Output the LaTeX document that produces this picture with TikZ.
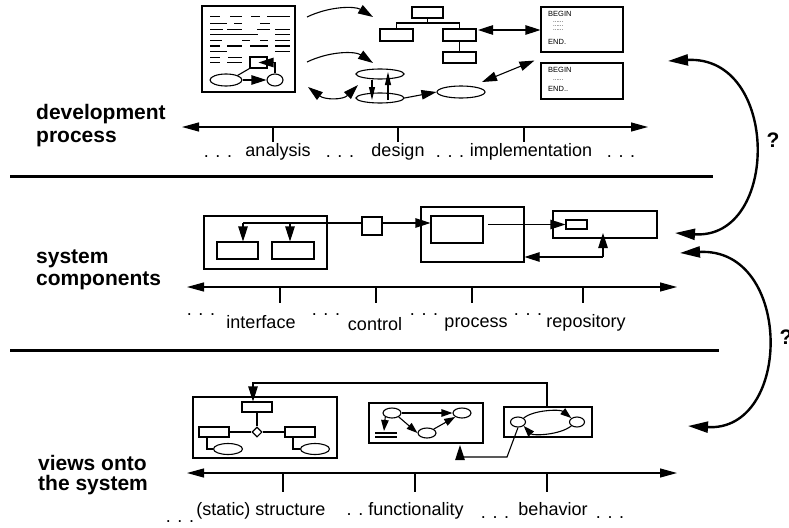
\documentclass[tikz,border=0pt]{standalone}
\usepackage{fontspec}
\setmainfont{Liberation Sans}
\usetikzlibrary{arrows.meta,shapes.geometric}
\begin{document}
\begin{tikzpicture}[x=1pt,y=-1pt,
  ln/.style={line width=1.1pt},
  bx/.style={draw,line width=1.1pt,inner sep=0pt,minimum width=#1},
  el/.style={draw,ellipse,line width=1.1pt,inner sep=0pt},
  tip/.style={line width=1.1pt,-{Triangle[length=15pt,width=9.5pt]}},
  tips/.style={line width=1.1pt,{Triangle[length=15pt,width=9.5pt]}-{Triangle[length=15pt,width=9.5pt]}},
  small/.style={line width=1.1pt,-{Triangle[length=11pt,width=7.5pt]}},
  slim/.style={line width=1.1pt,-{Triangle[length=13pt,width=6pt]}},
  axis/.style={line width=1.2pt,{Triangle[length=17pt,width=9pt]}-{Triangle[length=17pt,width=9pt]}},
  tick/.style={line width=1.2pt},
  sep/.style={line width=3pt},
  arc/.style={line width=2.4pt,{Triangle[length=20pt,width=11pt]}-{Triangle[length=20pt,width=11pt]}},
  lbl/.style={font=\fontsize{18}{20}\selectfont,inner sep=0pt,anchor=base},
  ttl/.style={font=\fontsize{21}{23}\selectfont\bfseries,inner sep=0pt,anchor=base west},
  code/.style={font=\fontsize{7.5}{8}\selectfont,inner sep=0pt,anchor=base west},
  dots/.style={font=\fontsize{6}{6}\selectfont,inner sep=0pt,anchor=base west},
  textline/.style={line width=1.5pt}
]
\useasboundingbox (0,0) rectangle (789,527);

% ---------------- development process ----------------
\node[ttl] (t1a) at (36,119) {development};
\node[ttl] (t1b) at (36,142) {process};

% text document with small diagram
\node[bx=93pt,minimum height=86pt] (doc) at (248.5,49) {};
\foreach \yy/\segs in {16.7/{210/220,230/242,251/260,267/290},
                       23.3/{210/227,234/242,260/270},
                       29.3/{210/223,227/242,257/270,275/290},
                       34.7/{210/258,275/290},
                       40.3/{210/222,242/250,260/268,275/290},
                       46/{210/220,227/242,250/268,275/290},
                       51.7/{210/227,275/290},
                       57.3/{210/220,228/242},
                       62.7/{210/220,227/242}}{
  \foreach \xa/\xb in \segs { \draw[textline] (\xa,\yy) -- (\xb,\yy); }
}
\node[bx=17pt,minimum height=11pt] (r0) at (258.5,62.5) {};
\node[el,minimum width=32pt,minimum height=12pt] (e0) at (226,80) {};
\node[el,minimum width=16pt,minimum height=12pt] (c0) at (275,80) {};
\draw[tip] (e0.east) -- (c0.west);
\draw[ln] (e0.north east) -- (r0.south west);
\draw[tip] (c0.north) |- (r0.center);

% curved arrows leaving the document
\coordinate (a1s) at (307,17);  \coordinate (a1e) at (373,17);
\coordinate (a2s) at (307,62);  \coordinate (a2e) at (373,63);
\coordinate (a3s) at (308,87);  \coordinate (a3e) at (358,85);
\draw[tip] (a1s) .. controls (330,6) and (355,6) .. (a1e);
\draw[tip] (a2s) .. controls (330,51) and (355,51) .. (a2e);
\draw[tips] (a3s) .. controls (325,100) and (343,100) .. (a3e);

% hierarchy chart
\node[bx=31pt,minimum height=11pt] (h0) at (427.5,12.5) {};
\node[bx=33pt,minimum height=12pt] (h1) at (396.5,35) {};
\node[bx=33pt,minimum height=12pt] (h2) at (459.5,35) {};
\node[bx=33pt,minimum height=11pt] (h3) at (459.5,57.5) {};
\coordinate (hj) at (427.5,23);
\draw[ln] (h0.south) -- (hj);
\draw[ln] (hj) -| (h1.north);
\draw[ln] (hj) -| (h2.north);
\draw[ln] (h2.south) -- (h3.north);

% data flow bubbles
\node[el,minimum width=48pt,minimum height=10pt] (e1) at (380,74) {};
\node[el,minimum width=48pt,minimum height=10pt] (e2) at (380,98) {};
\node[el,minimum width=48pt,minimum height=12pt] (e3) at (461,92) {};
\draw[slim] ([xshift=-8pt]e1.south) -- ([xshift=-8pt,yshift=-2pt]e2.center);
\draw[slim] ([xshift=8pt,yshift=-2pt]e2.center) -- ([xshift=8pt,yshift=2pt]e1.center);
\draw[tip] (e2.east) -- (e3.west);

% program code boxes
\node[bx=82pt,minimum height=45pt] (p1) at (582,29.5) {};
\node[bx=82pt,minimum height=36pt] (p2) at (582,81) {};
\node[code] (p1a) at (548,17) {BEGIN};
\node[dots] (p1b) at (553,23) {......};
\node[dots] (p1c) at (553,27) {......};
\node[dots] (p1d) at (553,31) {......};
\node[code] (p1e) at (548,45) {END.};
\node[code] (p2a) at (548,73) {BEGIN};
\node[dots] (p2b) at (553,80) {......};
\node[code] (p2c) at (548,91) {END..};
\coordinate (h2e) at (478,30);
\coordinate (e3e) at (482,82);
\draw[tips] (h2e) -- (p1.west |- h2e);
\draw[tips] (e3e) -- ([shift={(-6pt,-8pt)}]p1.south west);

% axis
\coordinate (ax1l) at (182,127); \coordinate (ax1r) at (648,127);
\draw[axis] (ax1l) -- (ax1r);
\foreach \x in {273,398,524} \draw[tick] (\x,127) -- (\x,142);
\node[lbl] (d11) at (218,157) {. . .};
\node[lbl] (l11) at (278,156) {analysis};
\node[lbl] (d12) at (340,157) {. . .};
\node[lbl] (l12) at (398,156) {design};
\node[lbl] (d13) at (450,157) {. . .};
\node[lbl] (l13) at (531,156) {implementation};
\node[lbl] (d14) at (621,157) {. . .};

\draw[sep] (10,176) -- (713,176);

% ---------------- system components ----------------
\node[ttl] (t2a) at (36,263) {system};
\node[ttl] (t2b) at (36,285) {components};

\node[bx=123pt,minimum height=53pt] (cif) at (265.5,242.5) {};
\node[bx=41pt,minimum height=17pt] (ci1) at (237.5,250.5) {};
\node[bx=42pt,minimum height=17pt] (ci2) at (293,250.5) {};
\node[bx=20pt,minimum height=18pt] (csq) at (372,226) {};
\node[bx=103pt,minimum height=55pt] (cpr) at (472.5,234.5) {};
\node[bx=52pt,minimum height=27pt] (cpi) at (457,229.5) {};
\node[bx=104pt,minimum height=27pt] (crp) at (605,224.5) {};
\node[bx=21pt,minimum height=9pt] (crs) at (576.5,224.5) {};
\coordinate (cw) at (362,223);
\coordinate (cl) at (243,223);
\coordinate (cm) at (290,223);
\draw[ln] (cw) -- (cl);
\draw[tip] (cl) -- (cl |- ci1.north);
\draw[tip] (cm) -- (cm |- ci2.north);
\draw[tip] ([yshift=3pt]csq.east) -- (cpi.west |- cw);
\coordinate (co) at (488,224.5);
\draw[tip] (co) -- (crs.west);
\coordinate (cr) at (603,257);
\draw[tip] (cr) -- (603,233);
\draw[tip] (cr) -- (cpr.east |- cr);

\coordinate (ax2l) at (187,287); \coordinate (ax2r) at (677,287);
\draw[axis] (ax2l) -- (ax2r);
\foreach \x in {280,376,472,583} \draw[tick] (\x,287) -- (\x,303);
\node[lbl] (d21) at (201,315) {. . .};
\node[lbl] (l21) at (261,328) {interface};
\node[lbl] (d22) at (326,315) {. . .};
\node[lbl] (l22) at (375,330) {control};
\node[lbl] (d23) at (424,315) {. . .};
\node[lbl] (l23) at (476,327) {process};
\node[lbl] (d24) at (528,315) {. . .};
\node[lbl] (l24) at (586,327) {repository};

\draw[sep] (10,350) -- (719,350);

% ---------------- views onto the system ----------------
\node[ttl] (t3a) at (38,470) {views onto};
\node[ttl] (t3b) at (38,490) {the system};

% structure view
\node[bx=144pt,minimum height=61pt] (vst) at (265,427.5) {};
\node[bx=30pt,minimum height=10pt] (vtp) at (257,407) {};
\node[draw,diamond,line width=1.1pt,inner sep=0pt,minimum width=10pt,minimum height=10pt] (vdi) at (257,432) {};
\node[bx=30pt,minimum height=10pt] (vl) at (214,432) {};
\node[bx=30pt,minimum height=10pt] (vr) at (300,432) {};
\node[el,minimum width=29pt,minimum height=11pt] (vle) at (228,449) {};
\node[el,minimum width=29pt,minimum height=11pt] (vre) at (315,449) {};
\draw[ln] (vtp.south) -- (vdi.north);
\draw[ln] (vl.east) -- (vdi.west);
\draw[ln] (vdi.east) -- (vr.west);
\draw[ln] (207,437) |- (vle.west);
\draw[ln] (293,437) |- (vre.west);

% functionality view
\node[bx=114pt,minimum height=40pt] (vfn) at (426,423) {};
\node[el,minimum width=18pt,minimum height=10pt] (f1) at (392,413) {};
\node[el,minimum width=18pt,minimum height=10pt] (f2) at (462,413) {};
\node[el,minimum width=18pt,minimum height=10pt] (f3) at (427,433) {};
\draw[small] (f1.east) -- (f2.west);
\draw[small] (f1.south east) -- (f3.west);
\draw[small] (f3.north east) -- (f2.south west);
\coordinate (fs) at (384,431);
\draw[small] (f1.south west) -- (fs);
\draw[ln] (375,433) -- (397,433);
\draw[ln] (375,437) -- (397,437);

% behaviour view
\node[bx=88pt,minimum height=30pt] (vbh) at (548,422) {};
\node[el,minimum width=15pt,minimum height=10pt] (s1) at (518,422) {};
\node[el,minimum width=15pt,minimum height=10pt] (s2) at (577,422) {};
\draw[small] (s1.north east) .. controls (533,410) and (560,409) .. (s2.north west);
\draw[small] (s2.south west) .. controls (560,435) and (533,436) .. (s1.south east);

% links between the views
\coordinate (vb1) at (547,383);
\coordinate (vb2) at (253,383);
\draw[tip] (547,407) -- (vb1) -- (vb2) -- (vb2 |- vtp.north);
\coordinate (vc1) at (507,457);
\coordinate (vc2) at (460,457);
\draw[tip] (s1.south) -- (vc1) -- (vc2) -- (460,445);

\coordinate (ax3l) at (187,473); \coordinate (ax3r) at (677,473);
\draw[axis] (ax3l) -- (ax3r);
\foreach \x in {283,415,547} \draw[tick] (\x,473) -- (\x,492);
\node[lbl] (d31) at (180,522) {. . .};
\node[lbl] (l31) at (261,515) {(static) structure};
\node[lbl] (d32) at (355,515) {. .};
\node[lbl] (l32) at (416,515) {functionality};
\node[lbl] (d33) at (495,518) {. . .};
\node[lbl] (l33) at (553,515) {behavior};
\node[lbl] (d34) at (610,518) {. . .};

% ---------------- open questions between levels ----------------
\coordinate (q1s) at (668,61);  \coordinate (q1e) at (675,233);
\coordinate (q2s) at (680,253); \coordinate (q2e) at (688,426);
\draw[arc] (q1s) .. controls (780,55) and (780,240) .. (q1e);
\draw[arc] (q2s) .. controls (793,247) and (793,432) .. (q2e);
\node[font=\fontsize{21}{23}\selectfont\bfseries,inner sep=0pt] (q1) at (773,140) {?};
\node[font=\fontsize{21}{23}\selectfont\bfseries,inner sep=0pt] (q2) at (786,337) {?};
\end{tikzpicture}
\end{document}
